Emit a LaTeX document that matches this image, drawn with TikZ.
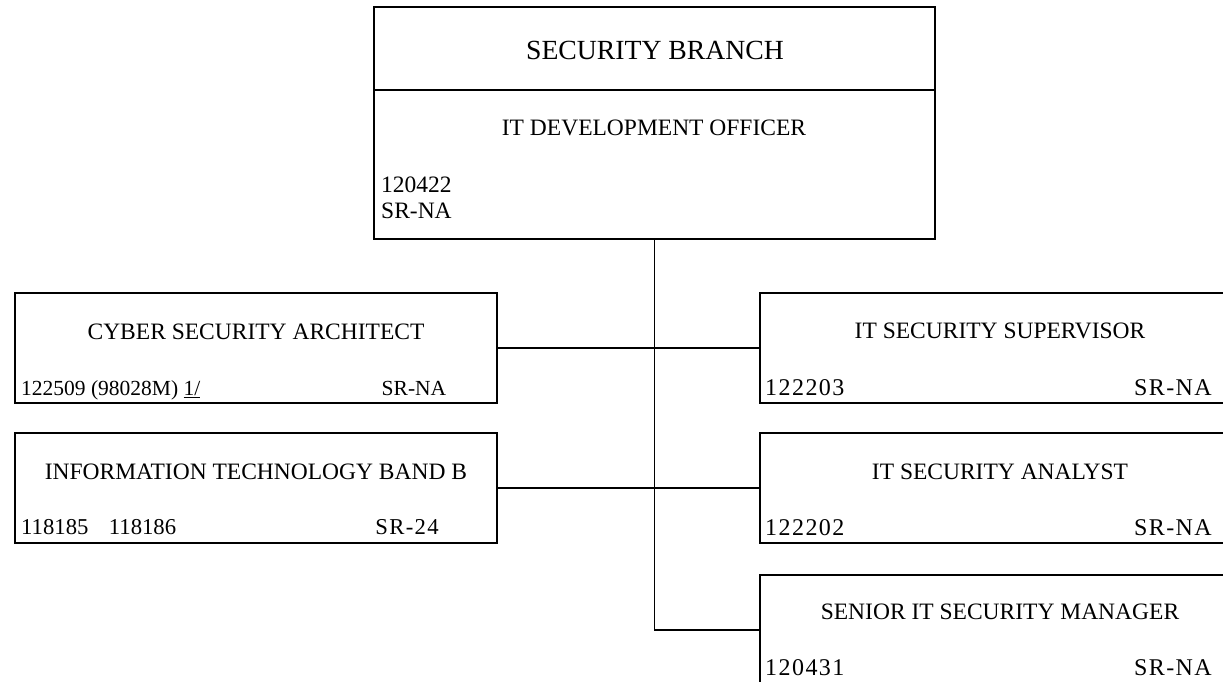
\documentclass[tikz,border=0pt]{standalone}
\usepackage{fontspec}
\setmainfont{Liberation Serif}
\newcommand{\fsz}[1]{\fontsize{#1}{#1}\selectfont}
\begin{document}
\begin{tikzpicture}[x=1pt,y=-1pt,
  box/.style={draw=black,line width=1.4pt,rectangle,inner sep=0pt},
  lbox/.style={box,minimum width=482pt,minimum height=110pt},
  rbox/.style={box,minimum width=480pt,minimum height=110pt},
  txt/.style={inner sep=0pt,text=black},
  ttl/.style={txt,anchor=base,font=\fsz{23.5}},
  conn/.style={draw=black,line width=1.4pt}]
\useasboundingbox (0,0) rectangle (1223,681);
\clip (0,0) rectangle (1223,681);
\fill[white] (0,0) rectangle (1223,681);

% top box
\node[box,minimum width=561pt,minimum height=232pt] (top) at (654.5,123) {};
\coordinate (divl) at (374,90);
\coordinate (divr) at (935,90);
\draw[conn] (divl) -- (divr);
\node[txt,anchor=base,font=\fsz{27.7}] (branch) at (655,59) {SECURITY BRANCH};
\node[ttl] (ido) at (654,135.8) {IT DEVELOPMENT OFFICER};
\node[txt,anchor=base west,font=\fsz{23.5}] (idonum) at (381,192.8) {120422};
\node[txt,anchor=base west,font=\fsz{23.5}] (idosr) at (381,218.8) {SR-NA};

% left boxes
\node[lbox] (csa) at (256,348) {};
\node[ttl] (csat) at (256,339.8) {CYBER SECURITY ARCHITECT};
\node[txt,anchor=base west,font=\fsz{21.5}] (csan) at (21,395.1) {122509 (98028M) \underline{1/}};
\node[txt,anchor=base,font=\fsz{21.5}] (csas) at (414,395.1) {SR-NA};

\node[lbox] (itb) at (256,488) {};
\node[ttl] (itbt) at (256,479.8) {INFORMATION TECHNOLOGY BAND B};
\node[txt,anchor=base west,font=\fsz{22.7}] (itbn) at (21,534.5) {118185\hspace{0.9em}118186};
\node[txt,anchor=base,font=\fsz{22.7}\addfontfeatures{LetterSpace=6}] (itbs) at (407,534.5) {SR-24};

% right boxes
\node[rbox] (iss) at (1000,348) {};
\node[ttl] (isst) at (1000,338.8) {IT SECURITY SUPERVISOR};
\node[txt,anchor=base west,font=\fsz{24}\addfontfeatures{LetterSpace=6}] (issn) at (765,395.9) {122203};
\node[txt,anchor=base east,font=\fsz{24}\addfontfeatures{LetterSpace=6}] (isss) at (1212,395.9) {SR-NA};

\node[rbox] (isa) at (1000,488) {};
\node[ttl] (isat) at (1000,479.8) {IT SECURITY ANALYST};
\node[txt,anchor=base west,font=\fsz{24}\addfontfeatures{LetterSpace=6}] (isan) at (765,535) {122202};
\node[txt,anchor=base east,font=\fsz{24}\addfontfeatures{LetterSpace=6}] (isas) at (1212,535) {SR-NA};

\node[rbox] (snr) at (1000,630) {};
\node[ttl] (snrt) at (1000,619.8) {SENIOR IT SECURITY MANAGER};
\node[txt,anchor=base west,font=\fsz{24}\addfontfeatures{LetterSpace=6}] (snrn) at (765,675) {120431};
\node[txt,anchor=base east,font=\fsz{24}\addfontfeatures{LetterSpace=6}] (snrs) at (1212,675) {SR-NA};

% connectors
\draw[conn] (top.south) |- (snr.west);
\draw[conn] (csa.east) -- (csa.east -| top.south);
\draw[conn] (itb.east) -- (itb.east -| top.south);
\draw[conn] (iss.west) -- (iss.west -| top.south);
\draw[conn] (isa.west) -- (isa.west -| top.south);
\end{tikzpicture}
\end{document}
